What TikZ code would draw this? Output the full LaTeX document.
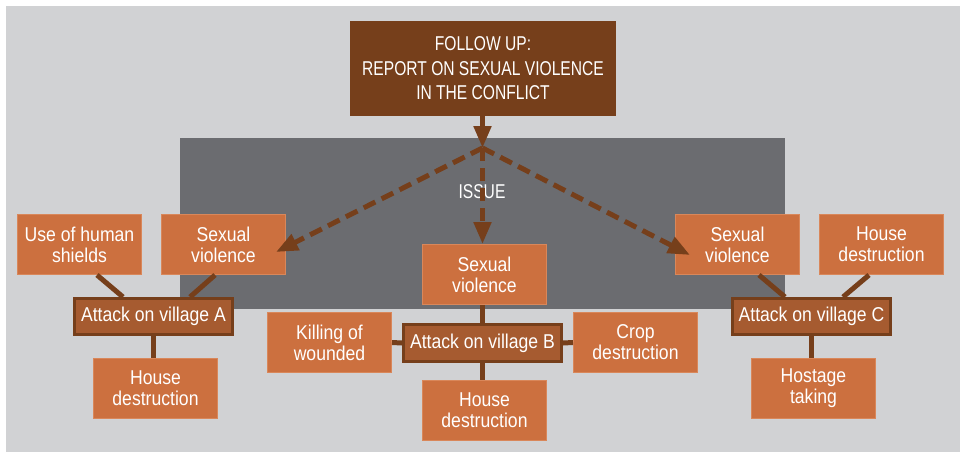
\documentclass[tikz,border=0pt]{standalone}
\usepackage{fontspec}
\setmainfont{Liberation Sans}[FakeStretch=0.88]
\newfontfamily\capsfont{Liberation Sans}[FakeStretch=0.78]
\usetikzlibrary{arrows.meta,calc}
\definecolor{bgL}{HTML}{D1D2D4}
\definecolor{bgD}{HTML}{6B6C70}
\definecolor{brn}{HTML}{763F1B}
\definecolor{org}{HTML}{CC703F}
\definecolor{orgL}{HTML}{D9875A}
\definecolor{att}{HTML}{A65B30}
\tikzset{
  leaf/.style={rectangle, fill=org, draw=orgL, line width=0.8pt, minimum width=124.2pt, minimum height=60.2pt, inner sep=0pt, align=center, text=white, font=\fontsize{20}{21}\selectfont},
  attack/.style={rectangle, fill=att, draw=brn, line width=3pt, minimum width=158pt, minimum height=36pt, inner sep=0pt, align=center, text=white, font=\fontsize{20}{21}\selectfont},
  topbox/.style={rectangle, fill=brn, minimum width=266pt, minimum height=95pt, inner sep=0pt, align=center, text=white, font=\capsfont\fontsize{20}{24.5}\selectfont},
  conn/.style={draw=brn, line width=5pt},
  tipstyle/.style={-{Triangle[length=22pt,width=17pt]}},
  solidarrow/.style={conn, tipstyle},
  dasharrow/.style={conn, tipstyle, dash pattern=on 13pt off 7pt},
}
\begin{document}
\begin{tikzpicture}[x=1pt,y=-1pt]
\useasboundingbox (0,0) rectangle (960,452);
\fill[white] (0,0) rectangle (960,452);
\fill[bgL] (6,6) rectangle (960,452);
\fill[bgD] (180,138) rectangle (785,309);
\node[text=white, font=\capsfont\fontsize{20}{21}\selectfont] (issue) at (482,192) {ISSUE};

\node[topbox] (top) at (483,68.5) {FOLLOW UP:\\REPORT ON SEXUAL VIOLENCE\\IN THE CONFLICT};

\node[leaf] (shields) at (79.5,244.5) {Use of human\\shields};
\node[leaf] (sexA) at (223.5,244.5) {Sexual\\violence};
\node[attack] (attA) at (153.5,316.5) {Attack on village A};
\node[leaf] (houseA) at (155.5,388.5) {House\\destruction};

\node[leaf] (sexB) at (484.5,274.5) {Sexual\\violence};
\node[attack, minimum height=37pt] (attB) at (482.5,343) {Attack on village B};
\node[leaf] (killing) at (329.5,342.5) {Killing of\\wounded};
\node[leaf] (crop) at (635.5,342.5) {Crop\\destruction};
\node[leaf] (houseB) at (484.5,410.5) {House\\destruction};

\node[leaf] (sexC) at (737.5,244.5) {Sexual\\violence};
\node[leaf] (houseC) at (881.5,244.5) {House\\destruction};
\node[attack] (attC) at (811.5,316.5) {Attack on village C};
\node[leaf] (hostage) at (813.5,388.5) {Hostage\\taking};

% connectors
\draw[conn] ([xshift=17.5pt]shields.south) -- ([xshift=-30.5pt]attA.north);
\draw[conn] ([xshift=-8.5pt]sexA.south) -- ([xshift=36.5pt]attA.north);
\draw[conn] (attA.south) -- (attA.south |- houseA.north);
\draw[conn] (attB.west) -- (killing.east);
\draw[conn] (attB.east) -- (crop.west);
\draw[conn] (attB.north) -- (attB.north |- sexB.south);
\draw[conn] (attB.south) -- (attB.south |- houseB.north);
\draw[conn] ([xshift=21.5pt]sexC.south) -- ([xshift=-26.5pt]attC.north);
\draw[conn] ([xshift=-12.5pt]houseC.south) -- ([xshift=31.5pt]attC.north);
\draw[conn] (attC.south) -- (attC.south |- hostage.north);

% arrows
\coordinate (junc) at (482.5,148);
\coordinate (tipA) at ($(sexA.center)+(52.5,7.5)$);
\coordinate (tipC) at ($(sexC.center)+(-47.5,10.5)$);
\draw[solidarrow] (top.south -| junc) -- (junc);
\draw[dasharrow] (junc) -- (tipA);
\draw[dasharrow] (junc) -- (tipC);
\draw[dasharrow] (junc) -- (junc |- sexB.north);
\end{tikzpicture}
\end{document}
